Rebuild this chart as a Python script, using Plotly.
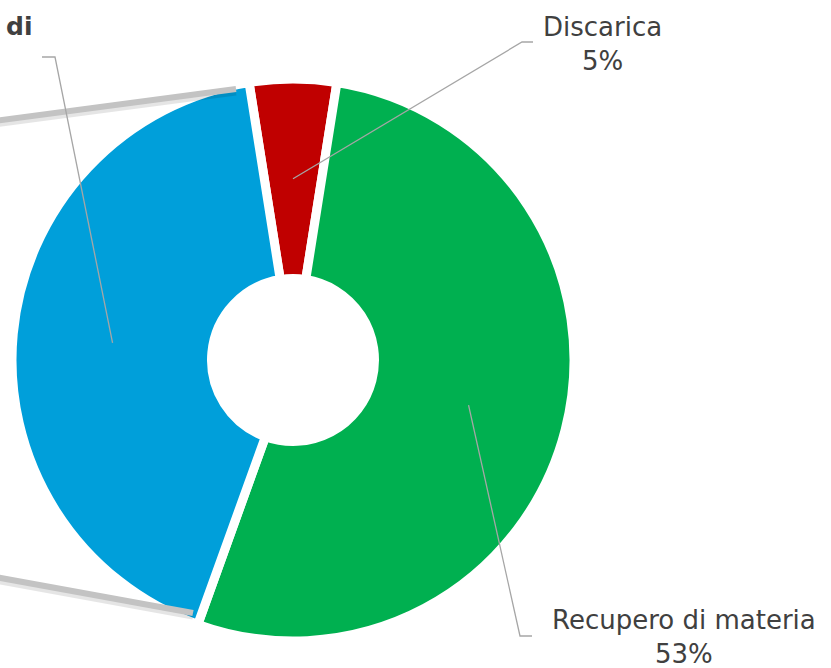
import math
import plotly.graph_objects as go

W, H = 831, 668

# ---- data ----
labels = ["Discarica", "Recupero di materia", "Recupero di energia"]
values = [5, 53, 42]
colors = ["#C00000", "#00B050", "#009FDA"]
shown_labels = ["Discarica", "Recupero di materia", None]

# ---- geometry (pixels) ----
CX, CY, R = 293, 360, 281
HOLE = 0.29
ROT = -9  # start angle of first slice (degrees, clockwise from 12 o'clock)
FONT = "DejaVu Sans, Verdana, sans-serif"


def px(x):
    return x / W


def py(y):
    return 1 - y / H


fig = go.Figure()
fig.add_trace(go.Pie(
    labels=labels, values=values, sort=False, direction="clockwise",
    rotation=ROT, hole=HOLE, textinfo="none", hoverinfo="label+percent",
    marker=dict(colors=colors, line=dict(color="white", width=9)),
    domain=dict(x=[px(CX - R), px(CX + R)], y=[py(CY + R), py(CY - R)]),
    showlegend=False,
))

shapes = []
# pie-of-pie connector bars (with soft shadow)
for (x0, y0, x1, y1) in [(-5, 121, 236, 89), (-5, 577, 193, 613)]:
    shapes.append(dict(type="line", xref="paper", yref="paper",
                       x0=px(x0), y0=py(y0 + 3), x1=px(x1), y1=py(y1 + 3),
                       line=dict(color="rgba(0,0,0,0.10)", width=7)))
    shapes.append(dict(type="line", xref="paper", yref="paper",
                       x0=px(x0), y0=py(y0), x1=px(x1), y1=py(y1),
                       line=dict(color="#C3C3C3", width=6)))

# leader lines: start at slice mid-angle, elbow to label position
total = sum(values)
elbows = [((522, 42), (533, 42)), ((520, 636), (532, 636)), ((55, 57), (42, 57))]
label_pos = [(602, 44), (684, 637), None]
annotations = []
acc = 0
for i, v in enumerate(values):
    mid = math.radians(ROT + (acc + v / 2) / total * 360)
    acc += v
    rr = 0.645 * R
    sx, sy = CX + rr * math.sin(mid), CY - rr * math.cos(mid)
    (ex, ey), (hx, hy) = elbows[i]
    shapes.append(dict(type="path", xref="paper", yref="paper",
                       path=f"M {px(sx)},{py(sy)} L {px(ex)},{py(ey)} L {px(hx)},{py(hy)}",
                       line=dict(color="#A6A6A6", width=1.3)))
    if shown_labels[i]:
        lx, ly = label_pos[i]
        pct = round(v / total * 100)
        annotations.append(dict(
            x=px(lx), y=py(ly), xref="paper", yref="paper", showarrow=False,
            xanchor="center", yanchor="middle", align="center",
            text=f"{shown_labels[i]}<br>{pct}%",
            font=dict(family=FONT, size=26, color="#404040"),
        ))

annotations.append(dict(
    x=px(34), y=py(26), xref="paper", yref="paper", showarrow=False,
    xanchor="right", yanchor="middle", text="<b>di</b>",
    font=dict(family=FONT, size=25, color="#404040"),
))

fig.update_layout(
    width=W, height=H, margin=dict(l=0, r=0, t=0, b=0),
    paper_bgcolor="white", plot_bgcolor="white",
    shapes=shapes, annotations=annotations,
)

fig.write_html("out.html", config={"displayModeBar": False},
               post_script="document.body.style.margin='0';document.body.style.padding='0';")
